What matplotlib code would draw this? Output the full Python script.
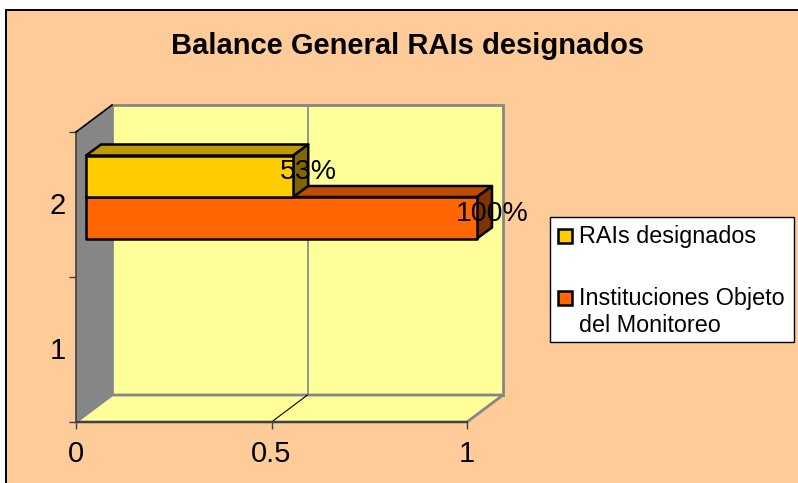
import matplotlib.pyplot as plt
from matplotlib.patches import Polygon, Rectangle

plt.rcParams['font.family'] = ['Liberation Sans', 'DejaVu Sans']

### chart data
categories = ['1', '2']
rai_values = [0, 0.53]
inst_values = [0, 1.0]
x_ticks = [0, 0.5, 1]
x_tick_labels = ['0', '0.5', '1']
series_names = ['RAIs designados', 'Instituciones Objeto\ndel Monitoreo']
value_labels = ['53%', '100%']

### colours
bg = '#ffcc99'
wall = '#ffff99'
side = '#868686'
yellow = ['#ffcc00', '#bf9900', '#806600']
orange = ['#ff6600', '#bf4c00', '#803300']

W, H = 798, 483
fig = plt.figure(figsize=(W/100, H/100), dpi=100, facecolor='white')

### chart area frame (runs off the right and bottom edges)
fig.patches.append(Rectangle((6/W, -0.1), 1.1, 1.1-10/H, transform=fig.transFigure, facecolor=bg,
                             edgecolor='black', linewidth=1.4, zorder=-1))

### axes = front plane of the 3d box (x 76-467 px, y 132-422 px)
ax = fig.add_axes([76/W, 1-422/H, 391/W, 290/H])
ax.set_xlim(0, 1)
ax.set_ylim(0, 2)
ax.patch.set_visible(False)
for s in ax.spines.values():
    s.set_visible(False)

### depth of the box in data units
dx, dy = 36/391, 27/145

### back wall, side wall, floor
ax.add_patch(Polygon([(dx, dy), (1+dx, dy), (1+dx, 2+dy), (dx, 2+dy)], facecolor=wall,
                     edgecolor=side, linewidth=2, clip_on=False, zorder=1))
ax.add_patch(Polygon([(0, 0), (dx, dy), (dx, 2+dy), (0, 2)], facecolor=side,
                     edgecolor='none', clip_on=False, zorder=1))
ax.add_patch(Polygon([(0, 0), (1, 0), (1+dx, dy), (dx, dy)], facecolor=wall,
                     edgecolor=side, linewidth=2, clip_on=False, zorder=1))

### gridline at 0.5
ax.plot([0.5+dx, 0.5+dx], [dy, 2+dy], color=side, lw=1.2, clip_on=False, zorder=2)
ax.plot([0.5, 0.5+dx], [0, dy], color='black', lw=0.8, clip_on=False, zorder=2)

### axis lines and ticks
ax.plot([0, 1], [0, 0], color='#404040', lw=1.5, clip_on=False, zorder=3)
ax.plot([0, 0], [0, 2], color='#404040', lw=1.2, clip_on=False, zorder=3)
ax.plot([0, dx], [2, 2+dy], color='black', lw=1.2, clip_on=False, zorder=3)
ax.set_xticks(x_ticks)
ax.set_xticklabels(x_tick_labels, fontsize=21)
ax.set_yticks([0, 1, 2])
ax.set_yticklabels([])
ax.tick_params(axis='x', length=5, width=1, pad=8, color='#404040')
ax.tick_params(axis='y', length=5, width=1, color='#404040')
for i, c in enumerate(categories):
    ax.text(-0.027, i+0.49, c, fontsize=21, ha='right', va='center')

### bars: shifted from the front plane by part of the depth
ox, oy = 10/391, 7.5/145
bh = 41.5/145
bdx, bdy = 15/391, 11/145


def bar3d(v, y0, cols, z):
    x0, x1 = ox, v+ox
    y0 = y0+oy
    y1 = y0+bh
    ec = dict(edgecolor='black', linewidth=1.8, joinstyle='round', clip_on=False, zorder=z)
    ax.add_patch(Polygon([(x0, y1), (x1, y1), (x1+bdx, y1+bdy), (x0+bdx, y1+bdy)], facecolor=cols[1], **ec))
    ax.add_patch(Polygon([(x1, y0), (x1+bdx, y0+bdy), (x1+bdx, y1+bdy), (x1, y1)], facecolor=cols[2], **ec))
    ax.add_patch(Polygon([(x0, y0), (x1, y0), (x1, y1), (x0, y1)], facecolor=cols[0], **ec))


center = 1.5
bar3d(inst_values[1], center-bh, orange, 4)
bar3d(rai_values[1], center, yellow, 5)

### value labels
ax.text(rai_values[1]+ox+0.04, center+oy+bh*0.61, value_labels[0], fontsize=20.5, ha='center', va='center', zorder=6)
ax.text(inst_values[1]+ox+0.04, center+oy-bh*0.41, value_labels[1], fontsize=20.5, ha='center', va='center', zorder=6)

### title
fig.text(408/W, 1-46/H, 'Balance General RAIs designados', fontsize=21, fontweight='bold', ha='center', va='center')

### legend box
fig.patches.append(Rectangle((550/W, 1-342/H), 244/W, 125/H, transform=fig.transFigure, facecolor='white',
                             edgecolor='black', linewidth=1))
for yp, col, name, yt in [(236, yellow[0], series_names[0], 236), (298, orange[0], series_names[1], 312)]:
    fig.patches.append(Rectangle((558/W, 1-(yp+7)/H), 14/W, 14/H, transform=fig.transFigure, facecolor=col,
                                 edgecolor='black', linewidth=1.8))
    fig.text(579/W, 1-yt/H, name, fontsize=16.8, ha='left', va='center', linespacing=1.2)

fig.savefig('out.png', dpi=100)
